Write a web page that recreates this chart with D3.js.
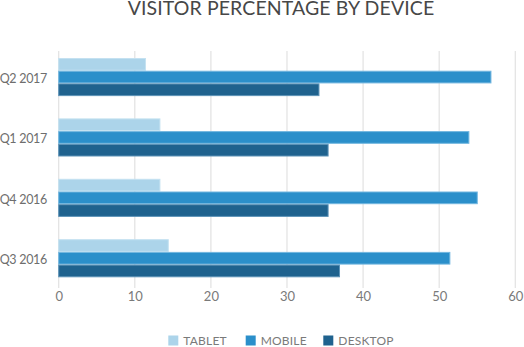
<!DOCTYPE html>
<html>
<head>
<meta charset="utf-8">
<script src="https://cdn.jsdelivr.net/npm/d3@7"></script>
<style>
  html, body { margin: 0; padding: 0; background: #fff; }
  svg { display: block; }
</style>
</head>
<body>
<svg id="chart" width="524" height="347"></svg>
<script>
// Quarters, top to bottom
const quarters = ["Q2 2017", "Q1 2017", "Q4 2016", "Q3 2016"];
// Visitor share (%) per device, in quarter order
const tablet  = [11.4, 13.3, 13.3, 14.4];
const mobile  = [56.8, 53.9, 55.0, 51.4];
const desktop = [34.2, 35.4, 35.4, 36.9];
const devices = ["TABLET", "MOBILE", "DESKTOP"];
const xTicks = [0, 10, 20, 30, 40, 50, 60];

const fills   = ["#acd4ea", "#2b8fca", "#1f628e"];
const strokes = ["#c4e1f1", "#72b6df", "#5d93b7"];

const seriesValues = [tablet, mobile, desktop];
const rows = quarters.map((q, i) => ({
  quarter: q,
  values: devices.map((d, k) => ({ device: d, value: seriesValues[k][i] }))
}));

const svg = d3.select("#chart");
const plotTop = 51, plotBottom = 288;
const font = "Lato, 'Open Sans', sans-serif";

const x = d3.scaleLinear().domain([0, 60]).range([58.7, 515.3]);
const y = d3.scaleBand().domain(quarters).range([51, 284.3])
  .paddingInner(0.369).paddingOuter(0.116);
const ySub = d3.scaleBand().domain(devices).range([0, y.bandwidth()]);
const color = d3.scaleOrdinal().domain(devices).range(fills);
const edge = d3.scaleOrdinal().domain(devices).range(strokes);

// Title
svg.append("text")
  .attr("x", 281).attr("y", 15)
  .attr("text-anchor", "middle")
  .attr("font-family", font)
  .attr("font-size", 19.5)
  .attr("font-weight", 400)
  .attr("letter-spacing", 0.1)
  .attr("fill", "#474747")
  .text("VISITOR PERCENTAGE BY DEVICE");

// Vertical grid lines
svg.append("g")
  .selectAll("line")
  .data(xTicks)
  .join("line")
  .attr("x1", d => x(d)).attr("x2", d => x(d))
  .attr("y1", plotTop).attr("y2", plotBottom)
  .attr("stroke", "#e2e2e2")
  .attr("stroke-width", 1.2);

// Bars
const groups = svg.append("g")
  .selectAll("g")
  .data(rows)
  .join("g")
  .attr("transform", d => `translate(0,${y(d.quarter)})`);

groups.selectAll("rect")
  .data(d => d.values)
  .join("rect")
  .attr("x", x(0))
  .attr("y", d => ySub(d.device) + 0.5)
  .attr("width", d => x(d.value) - x(0))
  .attr("height", ySub.bandwidth() - 1)
  .attr("fill", d => color(d.device))
  .attr("stroke", d => edge(d.device))
  .attr("stroke-width", 1);

// X axis labels
const xAxis = d3.axisBottom(x).tickValues(xTicks).tickSize(0).tickPadding(0);
const gx = svg.append("g")
  .attr("transform", `translate(0,${plotBottom + 4})`)
  .call(xAxis);
gx.select(".domain").remove();
gx.selectAll("text")
  .attr("font-family", font)
  .attr("font-size", 13)
  .attr("fill", "#7a7a7a");

// Y axis labels
const yAxis = d3.axisLeft(y).tickSize(0).tickPadding(0);
const gy = svg.append("g")
  .attr("transform", `translate(47,2)`)
  .call(yAxis);
gy.select(".domain").remove();
gy.selectAll("text")
  .attr("font-family", font)
  .attr("font-size", 12.5)
  .attr("letter-spacing", -0.3)
  .attr("fill", "#6e6e6e");

// Legend
const legendX = [168.3, 245.7, 323.3];
const legend = svg.append("g")
  .selectAll("g")
  .data(devices)
  .join("g")
  .attr("transform", (d, i) => `translate(${legendX[i]},335.5)`);
legend.append("rect")
  .attr("width", 10).attr("height", 10)
  .attr("fill", d => color(d));
legend.append("text")
  .attr("x", 15).attr("y", 5)
  .attr("dy", "0.36em")
  .attr("font-family", font)
  .attr("font-size", 12)
  .attr("letter-spacing", 0.2)
  .attr("fill", "#7a7a7a")
  .text(d => d);
</script>
</body>
</html>
